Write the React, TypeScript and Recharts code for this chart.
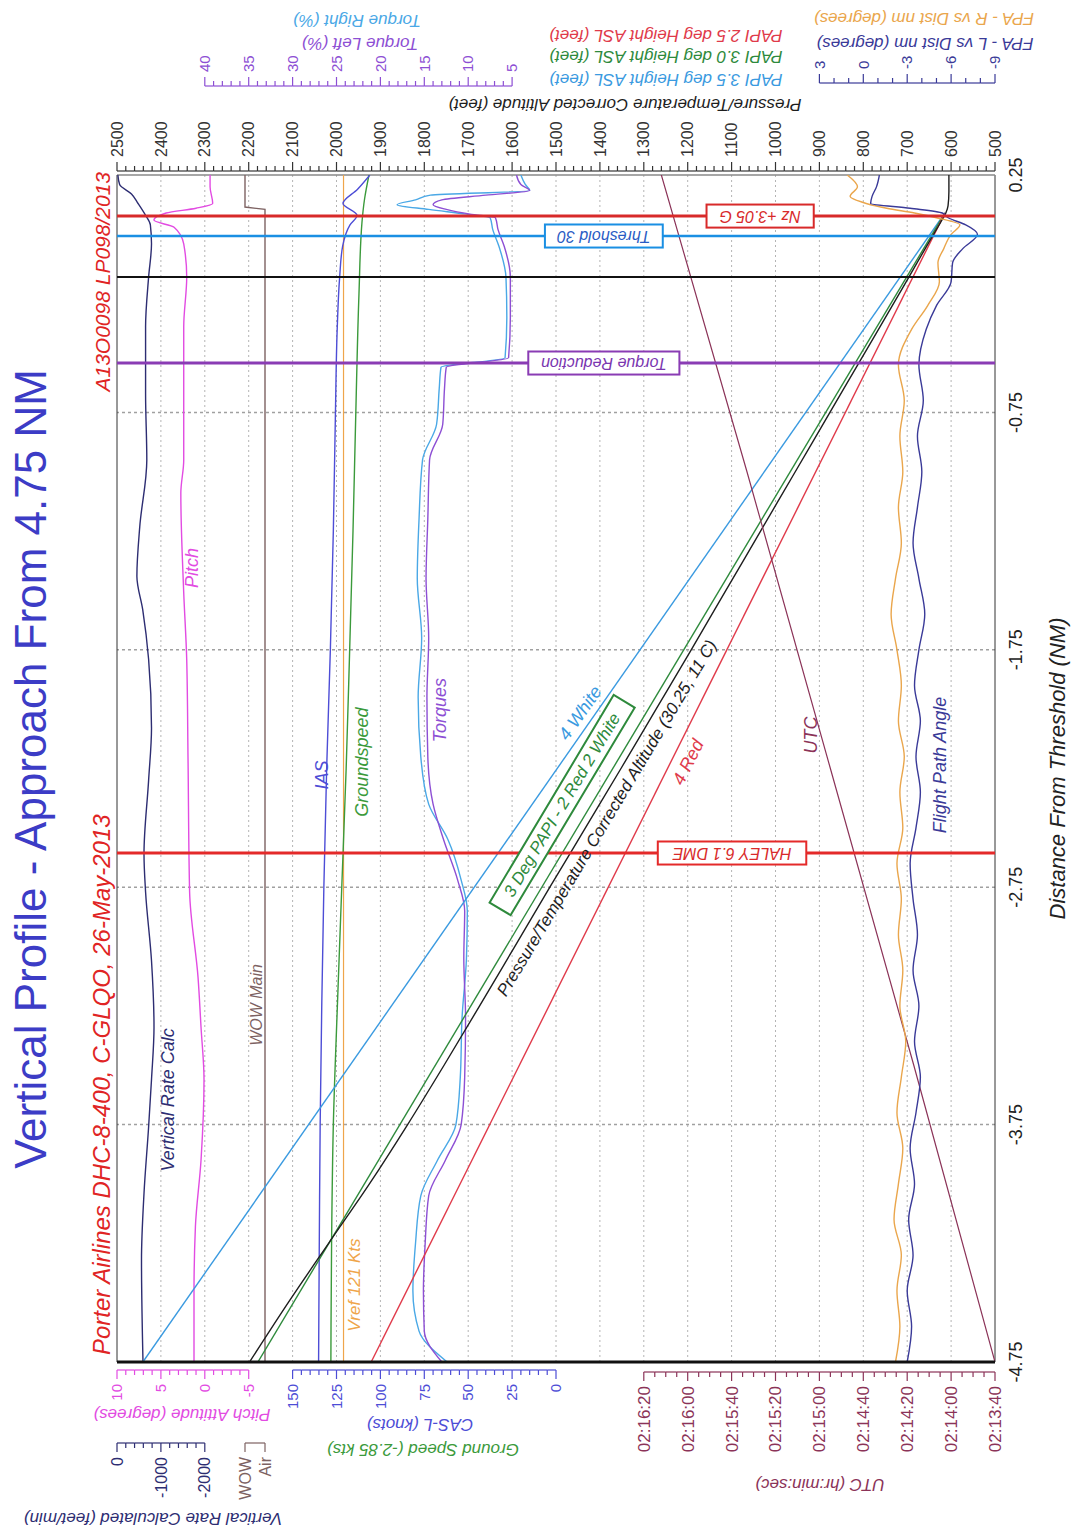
import React from "react";
import { ComposedChart, Line, XAxis, YAxis, ReferenceLine, ReferenceDot } from "recharts";

const FONT = '"Liberation Sans", Arial, Helvetica, sans-serif';

// the chart is laid out landscape, then turned a quarter turn to the left
const W = 1529;
const H = 1074;
// five 1px axes on the left and three on the right are taken off the margins
const MARGIN = { top: 117, right: 172, bottom: 9, left: 162 };
const X_AXIS_H = 70;
const PLOT_H = H - MARGIN.top - MARGIN.bottom - X_AXIS_H;
const PLOT_W = W - MARGIN.left - MARGIN.right - 8;

const C = {
  vr: "#2d2d72",
  pitch: "#e24be2",
  wow: "#7d6262",
  ias: "#4d4dd6",
  gs: "#3b9a3b",
  vref: "#efa54a",
  tqL: "#8d4fd4",
  tqR: "#4aa8e6",
  alt: "#1e1e1e",
  papi35: "#3a9ae0",
  papi30: "#2e8a3c",
  papi25: "#e03a4a",
  utc: "#8b3358",
  fpaL: "#3a3a98",
  fpaR: "#eaa64c",
};

// ---- data ----
const distTicks = [-4.75, -3.75, -2.75, -1.75, -0.75, 0.25];
const nmGrid = [-3.75, -2.75, -1.75, -0.75];
const altGrid = [600, 700, 800, 900, 1000, 1100, 1200, 1300, 1400, 1500, 1600, 1700, 1800, 1900, 2000, 2100, 2200, 2300, 2400];

const vrDist = [-4.75, -4.32, -4.04, -3.76, -3.56, -3.34, -3.06, -2.77, -2.61, -2.3, -2.08, -1.79, -1.58, -1.44, -1.23, -0.95, -0.67, -0.39, -0.18, -0.04, 0.04, 0.08, 0.13, 0.17, 0.21, 0.25];
const vrRate = [-592, -558, -615, -720, -786, -843, -786, -651, -615, -720, -786, -720, -585, -453, -519, -679, -651, -651, -720, -786, -760, -651, -480, -330, -60, -20];

const pitchDist = [-4.75, -4.46, -4.18, -3.9, -3.56, -3.34, -3.13, -2.77, -2.21, -1.79, -1.51, -1.09, -0.95, -0.39, -0.18, -0.04, 0.03, 0.06, 0.09, 0.11, 0.13, 0.2, 0.25];
const pitchDeg = [1.23, 1.23, 1.07, 0.43, 0.09, 0.43, 0.77, 1.73, 1.91, 2.06, 2.4, 2.73, 2.4, 2.4, 2.06, 2.4, 3.5, 5.8, 4.4, 1.0, -0.9, -0.6, -0.6];

const wowDist = [-4.75, 0.105, 0.115, 0.25];
const wowState = [0, 0, 1, 1];

const iasDist = [-4.75, -4.25, -3.75, -3.25, -2.75, -2.25, -1.75, -1.25, -0.75, -0.4, -0.18, -0.05, 0.04, 0.08, 0.13, 0.19, 0.25];
const iasKts = [135.2, 134.8, 134.3, 133.4, 132.2, 130.6, 128.5, 126.8, 125.6, 124.6, 123.2, 121.5, 117.3, 113.3, 121.3, 113, 106];

const gsDist = [-4.75, -4.25, -3.75, -3.25, -2.75, -2.25, -1.75, -1.25, -0.75, -0.25, 0.05, 0.15, 0.25];
const gsKts = [128.2, 127.8, 126.8, 124.5, 122, 119.5, 117.5, 115.6, 114, 112.2, 110.5, 109, 106.5];

const vrefDist = [-4.75, 0.25];
const vrefKts = [121, 121];

const tqDist = [-4.75, -4.62, -4.45, -4.25, -4.05, -3.9, -3.75, -3.55, -3.3, -3.05, -2.85, -2.72, -2.55, -2.4, -2.2, -1.95, -1.7, -1.45, -1.2, -0.95, -0.8, -0.65, -0.56, -0.52, -0.35, -0.18, -0.05, 0.02, 0.07, 0.085, 0.105, 0.125, 0.145, 0.165, 0.185, 0.21, 0.25];
const tqLeft = [13.0, 15.0, 15.1, 14.9, 14.5, 12.6, 10.8, 10.4, 10.3, 10.5, 10.4, 11.2, 12.8, 14.0, 14.6, 14.7, 14.5, 14.8, 14.6, 14.4, 12.9, 12.7, 12.5, 5.4, 5.2, 5.2, 5.9, 6.6, 6.9, 9.8, 12.5, 14.0, 13.0, 8.0, 3.0, 4.0, 4.5];
const tqRight = [12.4, 15.6, 16.3, 16.0, 15.4, 13.5, 11.4, 10.9, 10.7, 10.2, 10.1, 10.8, 12.3, 14.5, 15.4, 15.7, 15.3, 15.8, 15.6, 15.2, 13.6, 13.3, 13.1, 5.8, 5.6, 5.7, 6.5, 7.2, 7.5, 10.2, 14.5, 18.1, 16.0, 14.3, 3.0, 3.5, 4.0];

const altDist = [-4.75, -4.5, -4.25, -4.0, -3.75, -3.5, -3.25, -3.0, -2.75, -2.5, -2.25, -2.0, -1.75, -1.5, -1.25, -1.0, -0.75, -0.5, -0.25, 0.0, 0.05, 0.09, 0.12, 0.18, 0.25];
const altFeet = [2198, 2110, 2018, 1925, 1838, 1755, 1674, 1594, 1514, 1433, 1352, 1272, 1192, 1113, 1034, 955, 876, 797, 718, 640, 624, 612, 607, 605, 605];

const papiDist = [-4.75, 0.09];
const papi35 = [2441, 614];
const papi30 = [2179, 614];
const papi25 = [1921, 614];

const utcDist = [-4.75, -3.5, -2.25, -1.0, 0.25];
const utcSec = [8020, 8057, 8095, 8133, 8172];

const fpaDist = [-4.75, -4.6, -4.45, -4.3, -4.15, -4.0, -3.85, -3.7, -3.55, -3.4, -3.25, -3.1, -2.95, -2.8, -2.65, -2.5, -2.35, -2.2, -2.05, -1.9, -1.75, -1.6, -1.45, -1.3, -1.15, -1.0, -0.85, -0.7, -0.55, -0.4, -0.3, -0.2, -0.12, -0.06, 0.0, 0.04, 0.07, 0.09, 0.11, 0.13, 0.16, 0.2, 0.25];
const fpaLeft = [-3.0, -3.3, -3.0, -3.4, -3.1, -3.5, -3.2, -3.6, -3.9, -3.5, -3.8, -3.4, -3.7, -3.4, -3.2, -3.6, -3.9, -3.6, -3.9, -3.5, -3.8, -4.2, -3.8, -3.4, -3.7, -4.0, -3.7, -4.1, -3.8, -4.3, -5.0, -6.0, -6.1, -6.8, -7.8, -7.0, -5.8, -5.4, -3.2, -0.5, -0.6, -0.9, -1.1];
const fpaRight = [-2.2, -2.5, -2.3, -2.6, -2.1, -2.4, -2.7, -2.3, -2.6, -2.9, -2.5, -2.7, -2.4, -2.6, -2.3, -2.7, -2.5, -2.8, -2.4, -2.6, -2.3, -1.9, -2.2, -2.6, -2.4, -2.7, -2.5, -2.8, -2.4, -3.3, -4.4, -5.2, -5.1, -5.5, -6.0, -6.6, -5.0, -3.5, -1.6, -0.2, 0.9, 0.4, 1.1];

const zip = (xs: number[], ys: number[]) => xs.map((d, i) => ({ d, v: ys[i] }));

// ---- value axes (rulers) ----
const fmtUtc = (s: number) => {
  const p = (n: number) => String(n).padStart(2, "0");
  return `${p(Math.floor(s / 3600))}:${p(Math.floor((s % 3600) / 60))}:${p(s % 60)}`;
};

type Ruler = {
  id: string;
  domain: [number, number];
  majors: number[];
  minor: number;
  pos: number;
  side: "left" | "right";
  color: string;
  size?: number;
  fmt?: (v: number) => string;
};

const rulers: Ruler[] = [
  { id: "pitch", domain: [-90, 10], majors: [-5, 0, 5, 10], minor: 1, pos: 159, side: "left", color: C.pitch },
  { id: "cas", domain: [-250, 250], majors: [0, 25, 50, 75, 100, 125, 150], minor: 5, pos: 159, side: "left", color: C.ias },
  { id: "utc", domain: [8020, 8420], majors: [8020, 8040, 8060, 8080, 8100, 8120, 8140, 8160, 8180], minor: 5, pos: 157, side: "left", color: C.utc, size: 17, fmt: fmtUtc },
  { id: "vr", domain: [-20000, 0], majors: [-2000, -1000, 0], minor: 200, pos: 86, side: "left", color: C.vr, size: 16 },
  { id: "wow", domain: [-36.5, 7.4], majors: [0, 1], minor: 1, pos: 86, side: "left", color: C.wow, size: 16, fmt: (v) => (v === 1 ? "WOW" : "Air") },
  { id: "alt", domain: [500, 2500], majors: altGrid.concat([500, 2500]).sort((a, b) => a - b), minor: 20, pos: 1358, side: "right", color: "#333", size: 16 },
  { id: "torque", domain: [-50, 50], majors: [5, 10, 15, 20, 25, 30, 35, 40], minor: 1, pos: 1443, side: "right", color: C.tqL },
  { id: "fpa", domain: [-9, 51], majors: [-9, -6, -3, 0, 3], minor: 1, pos: 1446, side: "right", color: C.fpaL },
];

const rulerTicks = (r: Ruler) => {
  const lo = Math.min(...r.majors);
  const hi = Math.max(...r.majors);
  const n = Math.round((hi - lo) / r.minor);
  return Array.from({ length: n + 1 }, (_, i) => +(lo + i * r.minor).toFixed(6));
};

function RulerTick(props: any) {
  const { y, payload, spec } = props as { y: number; payload: { value: number }; spec: Ruler };
  const val = payload.value;
  const hi = Math.max(...spec.majors);
  const isMajor = spec.majors.some((m) => Math.abs(m - val) < 1e-6);
  const dir = spec.side === "left" ? -1 : 1;
  const len = isMajor ? 9 : 5;
  const step = (spec.minor * PLOT_H) / (spec.domain[1] - spec.domain[0]);
  const label = spec.fmt ? spec.fmt(val) : String(val);
  return (
    <g>
      {val < hi - 1e-9 && <line x1={spec.pos} x2={spec.pos} y1={y} y2={y - step} stroke={spec.color} strokeWidth={1.2} />}
      <line x1={spec.pos} x2={spec.pos + dir * len} y1={y} y2={y} stroke={spec.color} strokeWidth={1.2} />
      {isMajor && (
        <text
          x={spec.pos + dir * (len + 5)}
          y={y}
          dy="0.35em"
          textAnchor={dir < 0 ? "end" : "start"}
          fontFamily={FONT}
          fontSize={spec.size ?? 15}
          fill={spec.color}
        >
          {label}
        </text>
      )}
    </g>
  );
}

// ---- annotations ----
type Tag = { text: string; color: string; rotate?: number; box?: boolean; boxColor?: string; size?: number; italic?: boolean; pad?: number };

function TagShape({ cx, cy, tag }: { cx: number; cy: number; tag: Tag }) {
  const size = tag.size ?? 18;
  const w = tag.text.length * size * 0.52;
  const pad = tag.pad ?? 9;
  return (
    <g transform={`translate(${cx},${cy}) rotate(${tag.rotate ?? 0})`}>
      {tag.box && (
        <rect x={-w / 2 - pad} y={-size * 0.72} width={w + pad * 2} height={size * 1.44} fill="#fff" stroke={tag.boxColor ?? tag.color} strokeWidth={2} />
      )}
      <text
        x={0}
        y={0}
        textAnchor="middle"
        dominantBaseline="central"
        fontFamily={FONT}
        fontSize={size}
        fontStyle={tag.italic === false ? "normal" : "italic"}
        fill={tag.color}
      >
        {tag.text}
      </text>
    </g>
  );
}

const pxPerFt = PLOT_H / 2000;
const pxPerNm = PLOT_W / 5;
const slopeDeg = (h: number[]) =>
  (Math.atan((((h[0] - h[1]) / (papiDist[1] - papiDist[0])) * pxPerFt) / pxPerNm) * 180) / Math.PI;

const events = [
  { d: 0.077, color: "#d82a2a", w: 3, text: "Nz +3.05 G", textColor: "#d82a2a", at: 1035, pad: 12 },
  { d: -0.007, color: "#1a8fe3", w: 2.5, text: "Threshold 30", textColor: "#2a5cc4", at: 1391, pad: 9 },
  { d: -0.18, color: "#111111", w: 2 },
  { d: -0.542, color: "#8a3cb4", w: 3, text: "Torque Reduction", textColor: "#7a36b0", at: 1391, pad: 9 },
  { d: -2.606, color: "#e42a2a", w: 3, text: "HALEY  6.1 DME", textColor: "#d82a2a", at: 1099, pad: 16 },
];

const seriesTags: { axis: string; d: number; y: number; tag: Tag }[] = [
  { axis: "pitch", d: -1.405, y: 1.46, tag: { text: "Pitch", color: C.pitch } },
  { axis: "vr", d: -3.646, y: -1162, tag: { text: "Vertical Rate Calc", color: C.vr } },
  { axis: "wow", d: -3.246, y: 0.45, tag: { text: "WOW Main", color: C.wow, size: 16 } },
  { axis: "cas", d: -2.277, y: 133.3, tag: { text: "IAS", color: C.ias } },
  { axis: "cas", d: -2.223, y: 110.5, tag: { text: "Groundspeed", color: C.gs } },
  { axis: "cas", d: -4.426, y: 114.5, tag: { text: "Vref 121 Kts", color: C.vref, size: 17 } },
  { axis: "torque", d: -2.004, y: 13.2, tag: { text: "Torques", color: C.tqL } },
  { axis: "utc", d: -2.109, y: 8104, tag: { text: "UTC", color: C.utc } },
  { axis: "fpa", d: -2.235, y: -5.26, tag: { text: "Flight Path Angle", color: C.fpaL } },
  { axis: "alt", d: -2.016, y: 1445, tag: { text: "4 White", color: C.papi35, rotate: slopeDeg(papi35) } },
  { axis: "alt", d: -2.404, y: 1486, tag: { text: "3 Deg PAPI - 2 Red 2 White", color: C.papi30, rotate: slopeDeg(papi30), box: true, size: 17, pad: 6 } },
  { axis: "alt", d: -2.459, y: 1384, tag: { text: "Pressure/Temperature Corrected Altitude (30.25, 11 C)", color: C.alt, rotate: slopeDeg(papi30), size: 17 } },
  { axis: "alt", d: -2.223, y: 1199, tag: { text: "4 Red", color: C.papi25, rotate: slopeDeg(papi25) } },
];

// axis titles in the landscape frame: [text, u, v, color]
const axisTitles: [string, number, number, string][] = [
  ["Pitch Attitude (degrees)", 115, 182, C.pitch],
  ["CAS-L (knots)", 105, 420, C.ias],
  ["Ground Speed (-2.85 kts)", 80, 423, C.gs],
  ["Vertical Rate Calculated (feet/min)", 11, 153, C.vr],
  ["UTC (hr:min:sec)", 45, 820, C.utc],
  ["Pressure/Temperature Corrected Altitude (feet)", 1425, 625, C.alt],
  ["Torque Left (%)", 1486, 360, C.tqL],
  ["Torque Right (%)", 1509, 357, C.tqR],
  ["PAPI 2.5 deg Height ASL (feet)", 1494, 666, C.papi25],
  ["PAPI 3.0 deg Height ASL (feet)", 1473, 666, C.papi30],
  ["PAPI 3.5 deg Height ASL (feet)", 1450, 666, C.papi35],
  ["FPA - L vs Dist nm (degrees)", 1486, 925, C.fpaL],
  ["FPA - R vs Dist nm (degrees)", 1511, 924, C.fpaR],
];

const lineProps = { dot: false, isAnimationActive: false, strokeWidth: 1.4, dataKey: "v" } as const;

export default function App() {
  return (
    <div style={{ position: "absolute", left: 0, top: 0, width: 1074, height: 1529, overflow: "hidden", background: "#fff" }}>
      <div
        style={{
          position: "absolute",
          left: 0,
          top: 0,
          width: W,
          height: H,
          transformOrigin: "0 0",
          transform: `translate(0px, ${W}px) rotate(-90deg)`,
        }}
      >
        <ComposedChart width={W} height={H} margin={MARGIN}>
          <XAxis
            dataKey="d"
            type="number"
            domain={[-4.75, 0.25]}
            allowDataOverflow
            ticks={distTicks}
            interval={0}
            height={X_AXIS_H}
            axisLine={false}
            tickLine={false}
            tickMargin={8}
            tick={{ fontSize: 18, fill: "#222", fontFamily: FONT }}
            label={{ value: "Distance From Threshold (NM)", position: "insideBottom", offset: 0, fontSize: 22, fontStyle: "italic", fill: "#222", fontFamily: FONT }}
          />
          {rulers.map((r) => (
            <YAxis
              key={r.id}
              yAxisId={r.id}
              orientation={r.side}
              type="number"
              domain={r.domain}
              allowDataOverflow
              width={1}
              ticks={rulerTicks(r)}
              interval={0}
              axisLine={false}
              tickLine={false}
              tick={(p: any) => <RulerTick {...p} spec={r} />}
            />
          ))}

          {altGrid.map((a) => (
            <ReferenceLine key={`g${a}`} yAxisId="alt" y={a} stroke="#b4b4b4" strokeDasharray="2 3" />
          ))}
          {nmGrid.map((d) => (
            <ReferenceLine key={`n${d}`} yAxisId="alt" x={d} stroke="#a0a0a0" strokeWidth={1.5} strokeDasharray="3 3" />
          ))}
          <ReferenceLine yAxisId="alt" y={2500} stroke="#333" />
          <ReferenceLine yAxisId="alt" y={500} stroke="#333" />
          <ReferenceLine yAxisId="alt" x={0.25} stroke="#888" strokeWidth={1.5} />

          <Line {...lineProps} yAxisId="vr" data={zip(vrDist, vrRate)} type="monotone" stroke={C.vr} />
          <Line {...lineProps} yAxisId="pitch" data={zip(pitchDist, pitchDeg)} type="monotone" stroke={C.pitch} />
          <Line {...lineProps} yAxisId="wow" data={zip(wowDist, wowState)} type="linear" stroke={C.wow} />
          <Line {...lineProps} yAxisId="cas" data={zip(vrefDist, vrefKts)} type="linear" stroke={C.vref} strokeWidth={1.2} />
          <Line {...lineProps} yAxisId="cas" data={zip(gsDist, gsKts)} type="monotone" stroke={C.gs} />
          <Line {...lineProps} yAxisId="cas" data={zip(iasDist, iasKts)} type="monotone" stroke={C.ias} />
          <Line {...lineProps} yAxisId="torque" data={zip(tqDist, tqRight)} type="monotone" stroke={C.tqR} />
          <Line {...lineProps} yAxisId="torque" data={zip(tqDist, tqLeft)} type="monotone" stroke={C.tqL} />
          <Line {...lineProps} yAxisId="alt" data={zip(papiDist, papi35)} type="linear" stroke={C.papi35} />
          <Line {...lineProps} yAxisId="alt" data={zip(papiDist, papi30)} type="linear" stroke={C.papi30} />
          <Line {...lineProps} yAxisId="alt" data={zip(papiDist, papi25)} type="linear" stroke={C.papi25} />
          <Line {...lineProps} yAxisId="alt" data={zip(altDist, altFeet)} type="monotone" stroke={C.alt} />
          <Line {...lineProps} yAxisId="utc" data={zip(utcDist, utcSec)} type="linear" stroke={C.utc} strokeWidth={1.2} />
          <Line {...lineProps} yAxisId="fpa" data={zip(fpaDist, fpaRight)} type="monotone" stroke={C.fpaR} />
          <Line {...lineProps} yAxisId="fpa" data={zip(fpaDist, fpaLeft)} type="monotone" stroke={C.fpaL} />

          <ReferenceLine yAxisId="alt" x={-4.75} stroke="#111" strokeWidth={3} />
          {events.map((e) => (
            <ReferenceLine key={`e${e.d}`} yAxisId="alt" x={e.d} stroke={e.color} strokeWidth={e.w} />
          ))}
          {events
            .filter((e) => e.text)
            .map((e) => (
              <ReferenceDot
                key={`t${e.d}`}
                yAxisId="alt"
                x={e.d}
                y={e.at as number}
                r={1}
                shape={(p: any) => (
                  <TagShape
                    cx={p.cx}
                    cy={p.cy}
                    tag={{ text: e.text as string, color: e.textColor as string, boxColor: e.color, rotate: -90, box: true, size: 16, pad: e.pad }}
                  />
                )}
              />
            ))}
          {seriesTags.map((s) => (
            <ReferenceDot
              key={s.tag.text}
              yAxisId={s.axis}
              x={s.d}
              y={s.y}
              r={1}
              shape={(p: any) => <TagShape cx={p.cx} cy={p.cy} tag={s.tag} />}
            />
          ))}
        </ComposedChart>

        <svg width={W} height={H} style={{ position: "absolute", left: 0, top: 0, pointerEvents: "none" }}>
          <text x={760} y={46} textAnchor="middle" fontFamily={FONT} fontSize={44} fill="#3c3cc6">
            Vertical Profile - Approach From 4.75 NM
          </text>
          <text x={174} y={110} fontFamily={FONT} fontSize={24} fontStyle="italic" fill="#e02424">
            Porter Airlines DHC-8-400, C-GLQO, 26-May-2013
          </text>
          <text x={1357} y={110} textAnchor="end" fontFamily={FONT} fontSize={21} fontStyle="italic" fill="#e02424">
            A13O0098  LP098/2013
          </text>
          {axisTitles.map(([t, u, v, col]) => (
            <text
              key={t}
              x={u}
              y={v}
              transform={`rotate(-90 ${u} ${v})`}
              textAnchor="middle"
              dominantBaseline="central"
              fontFamily={FONT}
              fontSize={17}
              fontStyle="italic"
              fill={col}
            >
              {t}
            </text>
          ))}
        </svg>
      </div>
    </div>
  );
}
